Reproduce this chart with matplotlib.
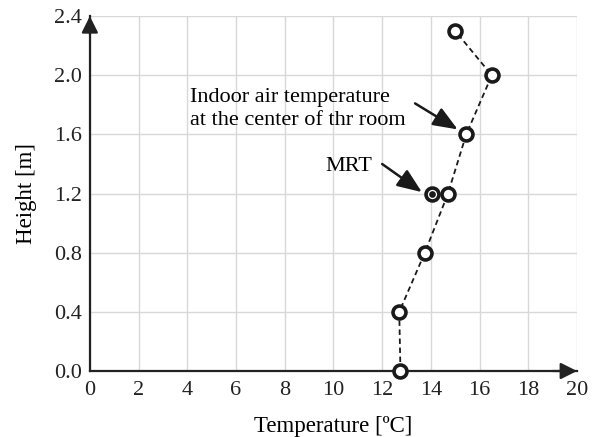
import matplotlib.pyplot as plt
import numpy as np

# indoor air temperature profile at the center of the room
temp_air = [12.75, 12.7, 13.75, 14.7, 15.45, 16.5, 15.0]
height_air = [0.0, 0.4, 0.8, 1.2, 1.6, 2.0, 2.3]

# mean radiant temperature
temp_mrt = [14.05]
height_mrt = [1.2]

xticks = np.arange(0, 21, 2)
yticks = [0.0, 0.4, 0.8, 1.2, 1.6, 2.0, 2.4]

plt.rcParams['font.family'] = ['Liberation Serif', 'DejaVu Serif']

fig = plt.figure(figsize=(6.03, 4.37), dpi=100)
ax = fig.add_axes([0.149, 0.151, 0.808, 0.812])

ax.set_xlim(0, 20)
ax.set_ylim(0, 2.4)
ax.set_xticks(xticks)
ax.set_yticks(yticks)
ax.set_yticklabels(['%.1f' % v for v in yticks])
ax.tick_params(length=0, labelsize=16, colors='#222222')
ax.tick_params(axis='x', pad=7)
ax.tick_params(axis='y', pad=6)
ax.grid(True, color='#d8d8d8', linewidth=1.0)
ax.set_axisbelow(True)

for s in ['top', 'right']:
    ax.spines[s].set_visible(False)
for s in ['left', 'bottom']:
    ax.spines[s].set_linewidth(1.6)
    ax.spines[s].set_color('#222222')
    ax.spines[s].set_zorder(5)

# arrow heads at the end of the axes
axis_arrow = dict(arrowstyle='-|>,head_length=0.5,head_width=0.25', color='#222222', lw=1.6,
                  mutation_scale=20, shrinkA=0, shrinkB=0)
ax.annotate('', xy=(1, 0), xytext=(0.95, 0), xycoords='axes fraction', arrowprops=axis_arrow,
            annotation_clip=False, zorder=6)
ax.annotate('', xy=(0, 1), xytext=(0, 0.95), xycoords='axes fraction', arrowprops=axis_arrow,
            annotation_clip=False, zorder=6)

ax.plot(temp_mrt, height_mrt, 'o', markersize=9.3, markerfacecolor='white',
        markeredgecolor='#1a1a1a', markeredgewidth=2.6, zorder=3, clip_on=False)
ax.plot(temp_mrt, height_mrt, 'o', markersize=3.8, color='#1a1a1a', zorder=3)

ax.plot(temp_air, height_air, '--', color='#1a1a1a', linewidth=1.3, dashes=(3, 2), zorder=4)
ax.plot(temp_air, height_air, 'o', markersize=9.3, markerfacecolor='white',
        markeredgecolor='#1a1a1a', markeredgewidth=2.6, zorder=7, clip_on=False)

note_arrow = dict(arrowstyle='-|>,head_length=0.75,head_width=0.3', color='#1a1a1a', lw=1.8,
                  mutation_scale=20, shrinkA=0, shrinkB=0)
ax.text(4.1, 1.662, 'Indoor air temperature\nat the center of thr room', fontsize=16,
        ha='left', va='baseline', linespacing=1.3)
ax.annotate('', xy=(15.1, 1.634), xytext=(13.35, 1.81), arrowprops=note_arrow)
ax.text(9.65, 1.351, 'MRT', fontsize=16, ha='left', va='baseline')
ax.annotate('', xy=(13.63, 1.21), xytext=(12.0, 1.40), arrowprops=note_arrow)

ax.set_xlabel('Temperature [ºC]', fontsize=16.5, labelpad=12)
ax.set_ylabel('Height [m]', fontsize=16.5, labelpad=12)

fig.savefig('out.png', dpi=100)
